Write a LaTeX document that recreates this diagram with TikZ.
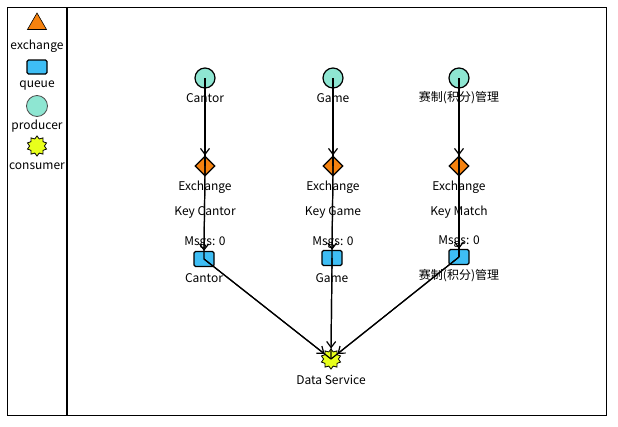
\documentclass[tikz,border=0pt]{standalone}
\usepackage{fontspec}
\setmainfont{Noto Sans CJK SC}
\newfontfamily\cjk{Noto Sans CJK SC}
\usetikzlibrary{shapes.geometric,arrows.meta}
\definecolor{exch}{HTML}{F5820F}
\definecolor{que}{HTML}{3EBEF5}
\definecolor{prod}{HTML}{8EE6D2}
\definecolor{cons}{HTML}{E8FF1C}
\tikzset{
  lbl/.style={font=\fontsize{12}{14}\selectfont, inner sep=0pt},
  prodnode/.style={circle, draw, line width=1.2pt, fill=prod, minimum size=20pt, inner sep=0pt},
  exchnode/.style={diamond, draw, line width=1.2pt, fill=exch, minimum size=20pt, inner sep=0pt},
  quenode/.style={rectangle, rounded corners=1.5pt, draw, line width=1.2pt, fill=que, minimum width=20pt, minimum height=15pt, inner sep=0pt},
  consnode/.style={star, star points=10, star point ratio=1.35, draw, line width=0.8pt, fill=cons, minimum size=20pt, inner sep=0pt},
  legtri/.style={regular polygon, regular polygon sides=3, draw, line width=0.6pt, fill=exch, minimum size=22pt, inner sep=0pt},
  conn/.style={line width=1.2pt},
  arr/.style={line width=1.2pt, -{Straight Barb[length=6pt,width=9pt,line width=1.2pt]}},
}
\begin{document}
\begin{tikzpicture}[x=1pt,y=-1pt]
\useasboundingbox (0,0) rectangle (618,426);
\draw[line width=1pt] (7,7) rectangle (606,415);
\draw[line width=2pt] (67,7) -- (67,415);
% legend
\node[legtri] (lt) at (37,24) {};
\node[lbl] (ltl) at (37,46) {exchange};
\node[quenode, minimum height=14pt] (lq) at (37,67) {};
\node[lbl] (lql) at (37,86) {queue};
\node[prodnode, draw=black!70, line width=0.8pt, minimum size=21pt] (lp) at (37,106) {};
\node[lbl] (lpl) at (37,126) {producer};
\node[consnode] (lc) at (37,146) {};
\node[lbl] (lcl) at (37,166) {consumer};
% producers
\node[prodnode] (p1) at (205,78) {};
\node[prodnode] (p2) at (333,78) {};
\node[prodnode] (p3) at (459,78) {};
\node[lbl] (p1l) at (205,98) {Cantor};
\node[lbl] (p2l) at (333,98) {Game};
\node[lbl] (p3l) at (459,98) {赛制(积分)管理};
% exchanges
\node[exchnode] (e1) at (205,166) {};
\node[exchnode] (e2) at (333,166) {};
\node[exchnode] (e3) at (459,166) {};
\node[lbl] (e1l) at (205,187) {Exchange};
\node[lbl] (e2l) at (333,187) {Exchange};
\node[lbl] (e3l) at (459,187) {Exchange};
\node[lbl] (k1) at (205,212) {Key Cantor};
\node[lbl] (k2) at (333,212) {Key Game};
\node[lbl] (k3) at (459,212) {Key Match};
\node[lbl] (m1) at (205,243) {Msgs: 0};
\node[lbl] (m2) at (333,243) {Msgs: 0};
\node[lbl] (m3) at (459,242) {Msgs: 0};
% queues
\node[quenode] (q1) at (204,259) {};
\node[quenode] (q2) at (332,258) {};
\node[quenode] (q3) at (459,257) {};
\node[lbl] (q1l) at (204,278) {Cantor};
\node[lbl] (q2l) at (332,278) {Game};
\node[lbl] (q3l) at (459,276) {赛制(积分)管理};
% consumer
\node[consnode] (c) at (331,359) {};
\node[lbl] (cl) at (331,380) {Data Service};
% connectors
\foreach \p/\e/\q in {p1/e1/q1,p2/e2/q2,p3/e3/q3}{
  \draw[conn] (\p.center) -- (\e.center);
  \draw[arr] (\p.center) -- (\e.north);
  \draw[conn] (\e.center) -- (\q.center);
  \draw[arr] (\e.center) -- (\q.north);
  \draw[conn] (\q.center) -- (c.center);
  \draw[arr] (\q.center) -- (c);
}
\end{tikzpicture}
\end{document}
